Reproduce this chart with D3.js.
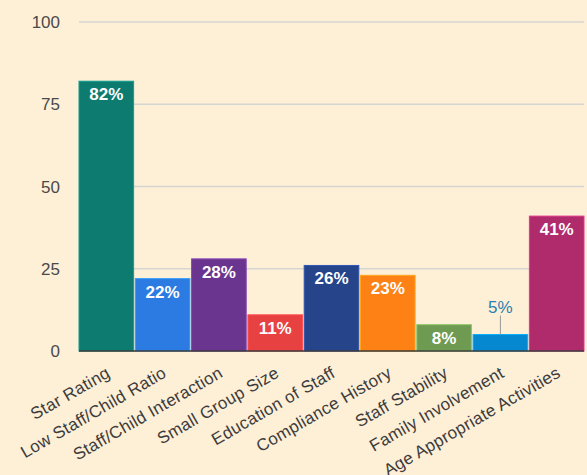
<!DOCTYPE html>
<html>
<head>
<meta charset="utf-8">
<script src="https://cdn.jsdelivr.net/npm/d3@7"></script>
<style>
  html, body { margin: 0; padding: 0; background: #feefd7; }
  svg { display: block; font-family: "Liberation Sans", Arial, sans-serif; }
</style>
</head>
<body>
<svg id="chart" width="587" height="475"></svg>
<script>
const categories = ["Star Rating", "Low Staff/Child Ratio", "Staff/Child Interaction", "Small Group Size",
  "Education of Staff", "Compliance History", "Staff Stability", "Family Involvement", "Age Appropriate Activities"];
const values = [82, 22, 28, 11, 26, 23, 8, 5, 41];
const colors = ["#0d7b70", "#2b7be2", "#6a358f", "#e84141", "#25448a", "#fd8115", "#6f9a51", "#0588d0", "#b02b6c"];
const yTicks = [0, 25, 50, 75, 100];

const plotLeft = 79, plotRight = 584, plotTop = 22, plotBottom = 351;

const svg = d3.select("#chart");

const x = d3.scaleBand()
    .domain(categories)
    .range([plotLeft, plotRight])
    .paddingInner(0.03)
    .paddingOuter(0);

const y = d3.scaleLinear()
    .domain([0, 100])
    .range([plotBottom, plotTop]);

// gridlines
svg.append("g")
    .selectAll("line")
    .data(yTicks.filter(d => d > 0))
    .enter().append("line")
    .attr("x1", plotLeft)
    .attr("x2", plotRight)
    .attr("y1", d => y(d))
    .attr("y2", d => y(d))
    .attr("stroke", "#d5d6d2")
    .attr("stroke-width", 1.5);

// y tick labels
svg.append("g")
    .selectAll("text")
    .data(yTicks)
    .enter().append("text")
    .attr("x", 60)
    .attr("y", d => y(d))
    .attr("dy", "0.36em")
    .attr("text-anchor", "end")
    .attr("fill", "#4a4a4a")
    .style("font-size", "17px")
    .text(d => d);

// bars
svg.append("g")
    .selectAll("rect")
    .data(values)
    .enter().append("rect")
    .attr("x", (d, i) => x(categories[i]))
    .attr("y", d => y(d))
    .attr("width", x.bandwidth())
    .attr("height", d => y(0) - y(d))
    .attr("fill", (d, i) => colors[i])
    .attr("stroke", (d, i) => d3.color(colors[i]).brighter(0.7))
    .attr("stroke-width", 1);

// baseline
svg.append("line")
    .attr("x1", plotLeft)
    .attr("x2", plotRight)
    .attr("y1", plotBottom)
    .attr("y2", plotBottom)
    .attr("stroke", "#3a3a3a")
    .attr("stroke-width", 1.5);

// value labels
const labels = svg.append("g");
values.forEach((v, i) => {
    const cx = x(categories[i]) + x.bandwidth() / 2;
    if (v < 7) {
        labels.append("line")
            .attr("x1", cx).attr("x2", cx)
            .attr("y1", y(v) - 19).attr("y2", y(v))
            .attr("stroke", "#999").attr("stroke-width", 1);
        labels.append("text")
            .attr("x", cx)
            .attr("y", y(v) - 22)
            .attr("text-anchor", "middle")
            .attr("fill", "#2a80b2")
            .style("font-size", "17px")
            .text(v + "%");
    } else {
        labels.append("text")
            .attr("x", cx)
            .attr("y", y(v) + 19)
            .attr("text-anchor", "middle")
            .attr("fill", "#ffffff")
            .style("font-size", "17px")
            .style("font-weight", "bold")
            .text(v + "%");
    }
});

// x labels
svg.append("g")
    .selectAll("text")
    .data(categories)
    .enter().append("text")
    .attr("transform", d => `translate(${x(d) + x.bandwidth() / 2 + 2},${plotBottom + 20}) rotate(-30)`)
    .attr("text-anchor", "end")
    .attr("dy", "0.35em")
    .attr("fill", "#3c3c3c")
    .style("font-size", "17px")
    .style("letter-spacing", "0.3px")
    .text(d => d);
</script>
</body>
</html>
